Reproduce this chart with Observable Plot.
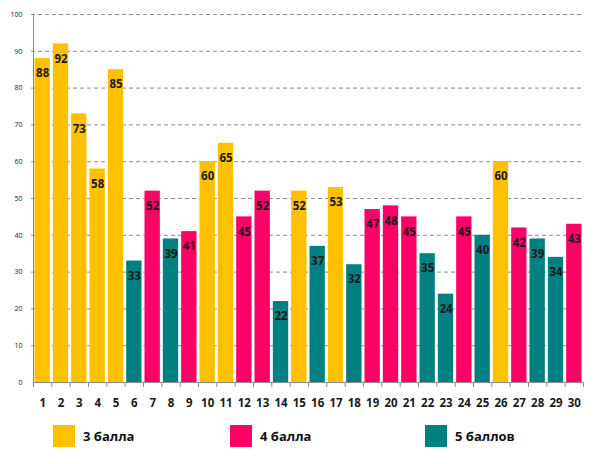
<!DOCTYPE html>
<html>
<head>
<meta charset="utf-8">
<script src="https://cdn.jsdelivr.net/npm/d3@7"></script>
<script src="https://cdn.jsdelivr.net/npm/@observablehq/plot@0.6"></script>
<style>
  body { margin: 0; background: #fff; font-family: "Open Sans", sans-serif; }
  #wrap { position: relative; width: 594px; height: 464px; }
  .legend { position: absolute; top: 425px; left: 0; width: 594px; height: 24px; }
  .item { position: absolute; top: 0; display: flex; align-items: center; font-weight: bold; font-size: 13px; color: #111; }
  .sw { width: 22px; height: 22px; margin-right: 8px; }
</style>
</head>
<body>
<div id="wrap">
  <div id="chart"></div>
  <div class="legend" id="legend"></div>
</div>
<script>
// номера заданий
const tasks = d3.range(1, 31);
// процент выполнения
const values = [88, 92, 73, 58, 85, 33, 52, 39, 41, 60, 65, 45, 52, 22, 52,
                37, 53, 32, 47, 48, 45, 35, 24, 45, 40, 60, 42, 39, 34, 43];
// уровень сложности (оценка)
const grades = ["3 балла", "3 балла", "3 балла", "3 балла", "3 балла",
                "5 баллов", "4 балла", "5 баллов", "4 балла", "3 балла",
                "3 балла", "4 балла", "4 балла", "5 баллов", "3 балла",
                "5 баллов", "3 балла", "5 баллов", "4 балла", "4 балла",
                "4 балла", "5 баллов", "5 баллов", "4 балла", "5 баллов",
                "3 балла", "4 балла", "5 баллов", "5 баллов", "4 балла"];
const gradeNames = ["3 балла", "4 балла", "5 баллов"];
const gradeColors = ["#FFC000", "#FF0066", "#008080"];
const yTicks = d3.range(0, 101, 10);
const xEdges = d3.range(0.5, 31, 1);

const data = tasks.map((n, i) => ({n, v: values[i], g: grades[i]}));

const chart = Plot.plot({
  width: 594,
  height: 414,
  marginLeft: 33,
  marginRight: 11,
  marginTop: 14,
  marginBottom: 32,
  style: {fontFamily: "Open Sans, sans-serif"},
  x: {type: "linear", domain: [0.5, 30.5]},
  y: {domain: [0, 100]},
  color: {domain: gradeNames, range: gradeColors},
  marks: [
    Plot.ruleY(yTicks.filter(d => d > 0), {stroke: "#8c8c8c", strokeDasharray: "4,3", insetLeft: -2}),
    Plot.rectY(data, {x1: d => d.n - 0.5, x2: d => d.n + 0.5, y: "v", fill: "g", insetLeft: 1.5, insetRight: 1.5}),
    Plot.text(data, {x: "n", y: "v", text: d => String(d.v), dy: 15, fontWeight: "bold", fontSize: 11.5, fill: "#1a1a1a"}),
    Plot.frame({anchor: "left", stroke: "#8c8c8c"}),
    Plot.frame({anchor: "bottom", stroke: "#8c8c8c"}),
    Plot.axisY({ticks: yTicks, tickSize: 0, tickPadding: 11, fontSize: 7, color: "#222", label: null}),
    Plot.axisX({ticks: xEdges, tickSize: 5, text: null, stroke: "#8c8c8c", label: null}),
    Plot.axisX({ticks: tasks, tickSize: 0, tickPadding: 16, fontSize: 11.5, fontWeight: "bold", color: "#1a1a1a", label: null})
  ]
});
document.getElementById("chart").appendChild(chart);

const legendX = [53, 230, 425];
const legend = document.getElementById("legend");
gradeNames.forEach((name, i) => {
  const item = document.createElement("div");
  item.className = "item";
  item.style.left = legendX[i] + "px";
  item.innerHTML = `<div class="sw" style="background:${gradeColors[i]}"></div><span>${name}</span>`;
  legend.appendChild(item);
});
</script>
</body>
</html>
